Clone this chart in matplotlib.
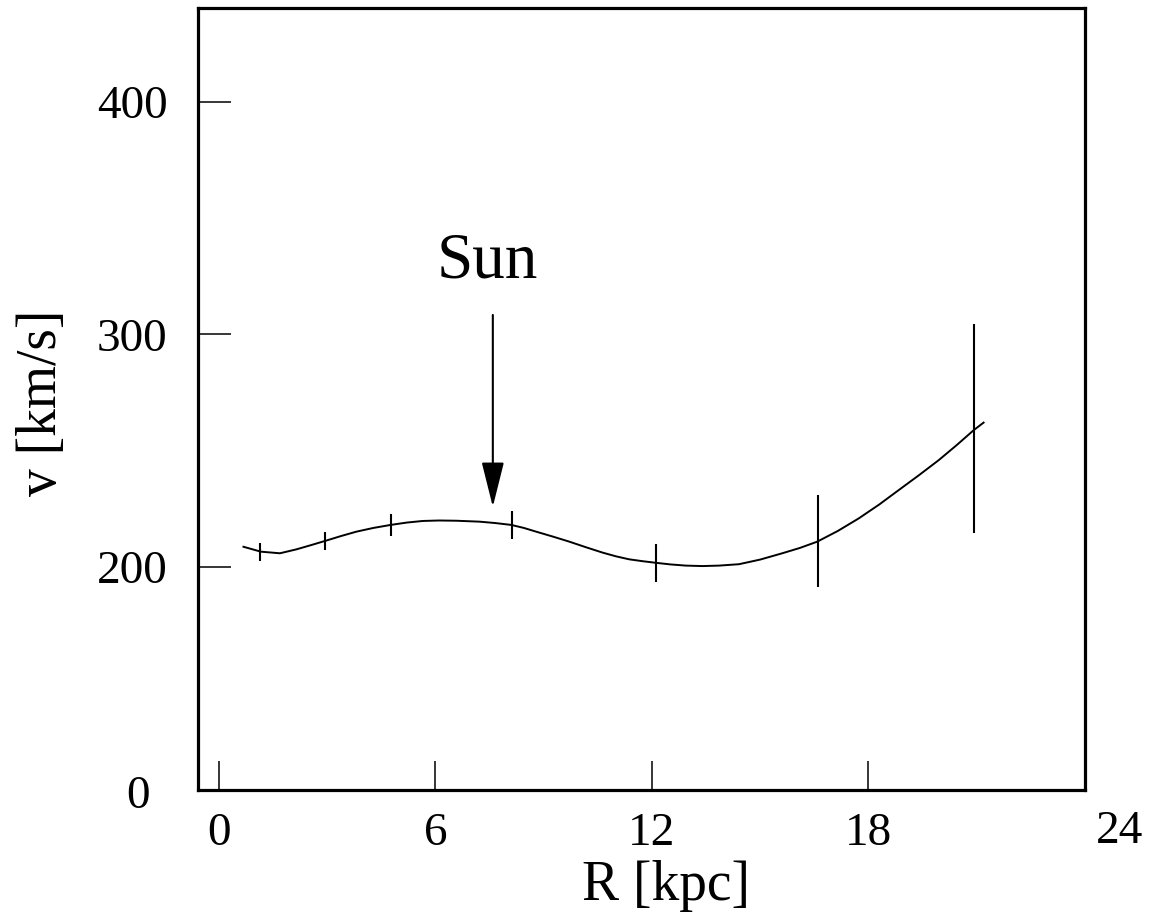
import matplotlib
matplotlib.use("Agg")
import matplotlib.pyplot as plt

plt.rcParams['font.family'] = ['Liberation Serif', 'DejaVu Serif']

# Rotation curve
curve_R = [0.68, 1.16, 1.69, 2.15, 2.55, 2.96, 3.38, 3.81, 4.28, 4.76, 5.2, 5.65, 6.1, 6.58,
           7.22, 7.66, 8.10, 8.45, 8.79, 9.25, 9.71, 10.17, 10.63, 11.0, 11.37, 11.74, 12.11,
           12.52, 12.94, 13.4, 13.86, 14.41, 15.0, 15.61, 16.1, 16.58, 17.15, 17.73,
           18.3, 18.84, 19.4, 19.95, 20.45, 20.92, 21.19]
curve_v = [208.7, 206.6, 205.9, 207.6, 209.4, 211.3, 213.3, 215.2, 216.8, 218.1, 219.1, 219.8, 220.0, 219.9,
           219.5, 218.9, 218.1, 216.8, 215.2, 213.1, 210.9, 208.5, 206.2, 204.6, 203.3, 202.5, 201.8,
           201.1, 200.6, 200.4, 200.6, 201.2, 203.2, 205.9, 208.2, 210.9, 215.5, 220.9,
           226.9, 233.1, 239.5, 246.0, 252.5, 258.9, 262.1]

# Error bar points
pts_R = [1.14, 2.95, 4.76, 8.11, 12.1, 16.6, 20.93]
pts_v = [206.6, 211.3, 218.1, 218.1, 201.7, 211.3, 259.7]
pts_err = [3.9, 3.9, 4.7, 6.0, 8.0, 19.7, 45.0]

x_ticks = [0, 6, 12, 18]
x_ticklabels = ['0', '6', '12', '18']
y_ticks = [200, 300, 400]
y_ticklabels = ['200', '300', '400']

sun_R = 7.59
sun_v_tip = 225.9
sun_v_tail = 308.4

fig = plt.figure(figsize=(11.49, 9.17), dpi=100)
ax = fig.add_axes([198/1149, 1-790/917, 887/1149, 782/917])

ax.plot(curve_R, curve_v, color='black', lw=1.4)
ax.errorbar(pts_R, pts_v, yerr=pts_err, fmt='none', ecolor='black', elinewidth=1.5, capsize=0)

ax.set_xlim(-0.58, 24)
ax.set_ylim(104.1, 440.4)

ax.set_xticks(x_ticks)
ax.set_xticklabels(x_ticklabels)
ax.set_yticks(y_ticks)
ax.set_yticklabels(y_ticklabels)
ax.tick_params(axis='x', direction='in', length=21, width=1.1, labelsize=34, pad=16)
ax.tick_params(axis='y', direction='in', length=24, width=1.1, labelsize=34, pad=22)
ax.tick_params(top=False, right=False)
for lbl in ax.get_xticklabels():
    lbl.set_x(lbl.get_position()[0])
for s in ax.spines.values():
    s.set_linewidth(2.3)

# corner labels
ax.text(1.039, -0.053, '24', transform=ax.transAxes, ha='center', va='center', fontsize=34)
ax.text(-0.0676, -0.009, '0', transform=ax.transAxes, ha='center', va='center', fontsize=34)

ax.set_xlabel('R [kpc]', fontsize=40)
ax.xaxis.set_label_coords(0.5276, -0.089)
ax.set_ylabel('v [km/s]', fontsize=40)
ax.yaxis.set_label_coords(-0.1466, 0.495)

ax.annotate('', xy=(sun_R, sun_v_tip), xytext=(sun_R, sun_v_tail),
            arrowprops=dict(arrowstyle='-|>,head_length=1.0,head_width=0.25',
                            mutation_scale=28, lw=1.5, color='black',
                            shrinkA=0, shrinkB=0))
ax.text(7.44, 324.7, 'Sun', ha='center', va='baseline', fontsize=47)

fig.savefig('out.png', dpi=100)
